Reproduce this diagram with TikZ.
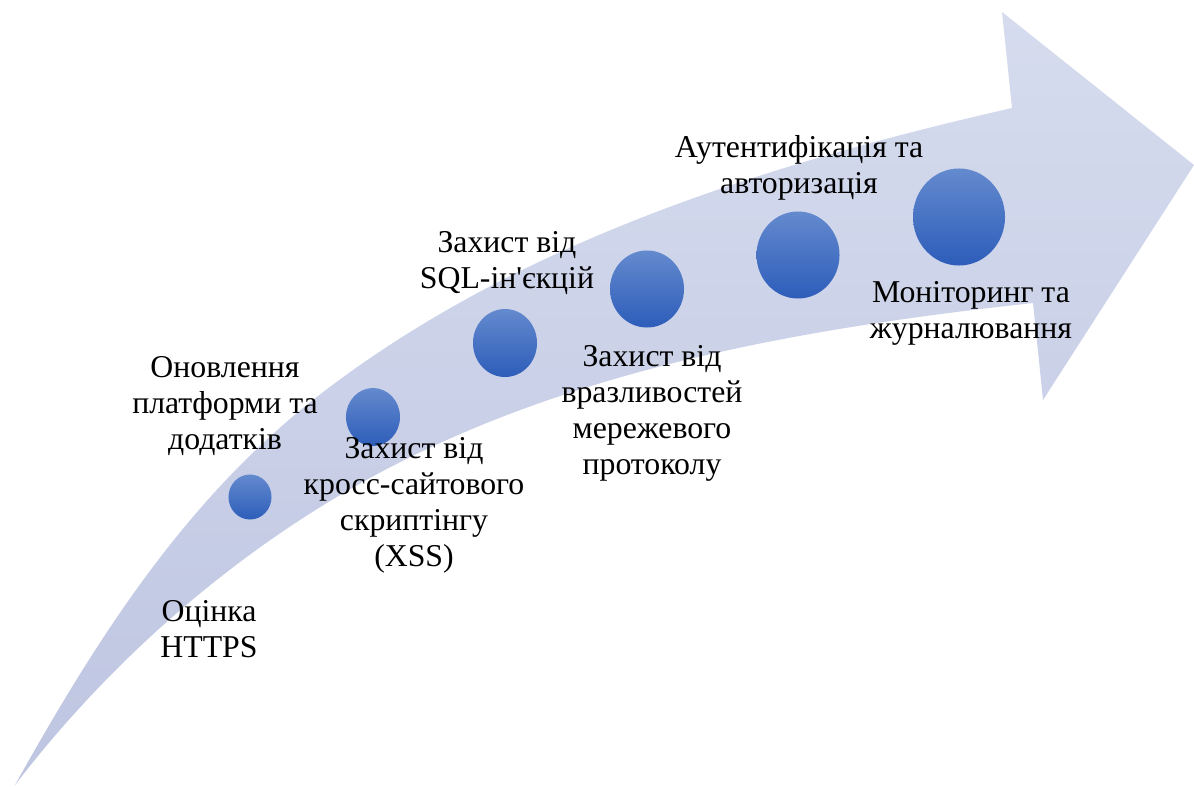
\documentclass[tikz,border=0pt]{standalone}
\usepackage{fontspec}
\setmainfont{Liberation Serif}
\newfontfamily\tnr{Liberation Serif}
\usetikzlibrary{shapes.geometric}
\definecolor{arrowTop}{RGB}{214,220,238}
\definecolor{arrowBot}{RGB}{190,197,225}
\definecolor{dotTop}{RGB}{100,138,206}
\definecolor{dotMid}{RGB}{66,113,200}
\definecolor{dotBot}{RGB}{45,93,186}
\tikzset{
  lbl/.style={font=\tnr\fontsize{22.6pt}{25.6pt}\selectfont, align=center, anchor=north, inner sep=0pt, text=black},
  dot/.style={ellipse, draw=none, inner sep=0pt, top color=dotTop, middle color=dotMid, bottom color=dotBot},
}
\begin{document}
\begin{tikzpicture}[x=0.025cm, y=-0.025cm]
\useasboundingbox (0,0) rectangle (1194,787);
% big curved arrow
\shade[top color=arrowTop, bottom color=arrowBot]
  (15,785) .. controls (96,640) and (183,503) .. (313,400)
  .. controls (511,244) and (766,164) .. (1012,108)
  -- (1002,12) -- (1194,165) -- (1043,400) -- (1033,303)
  .. controls (805,328) and (571,368) .. (370,478)
  .. controls (233,553) and (110,661) .. (15,785)
  -- cycle;
% dots
\node[dot, minimum width=1.075cm, minimum height=1.125cm] (c1) at (250,497) {};
\node[dot, minimum width=1.35cm, minimum height=1.45cm] (c2) at (373,417) {};
\node[dot, minimum width=1.6cm, minimum height=1.7cm] (c3) at (505,343) {};
\node[dot, minimum width=1.85cm, minimum height=1.925cm] (c4) at (647,289) {};
\node[dot, minimum width=2.075cm, minimum height=2.175cm] (c5) at (798,255) {};
\node[dot, minimum width=2.3cm, minimum height=2.425cm] (c6) at (959,217) {};
% labels
\node[lbl] (t1) at (209,600) {Оцінка\\HTTPS};
\node[lbl] (t2) at (225,356) {Оновлення\\платформи та\\додатків};
\node[lbl] (t3) at (414,437) {Захист від\\кросс-сайтового\\скриптінгу\\(XSS)};
\node[lbl] (t4) at (507,231) {Захист від\\SQL-ін\textquotesingle єкцій};
\node[lbl] (t5) at (652,345) {Захист від\\вразливостей\\мережевого\\протоколу};
\node[lbl] (t6) at (799,135) {Аутентифікація та\\авторизація};
\node[lbl] (t7) at (971,281) {Моніторинг та\\журналювання};
\end{tikzpicture}
\end{document}
